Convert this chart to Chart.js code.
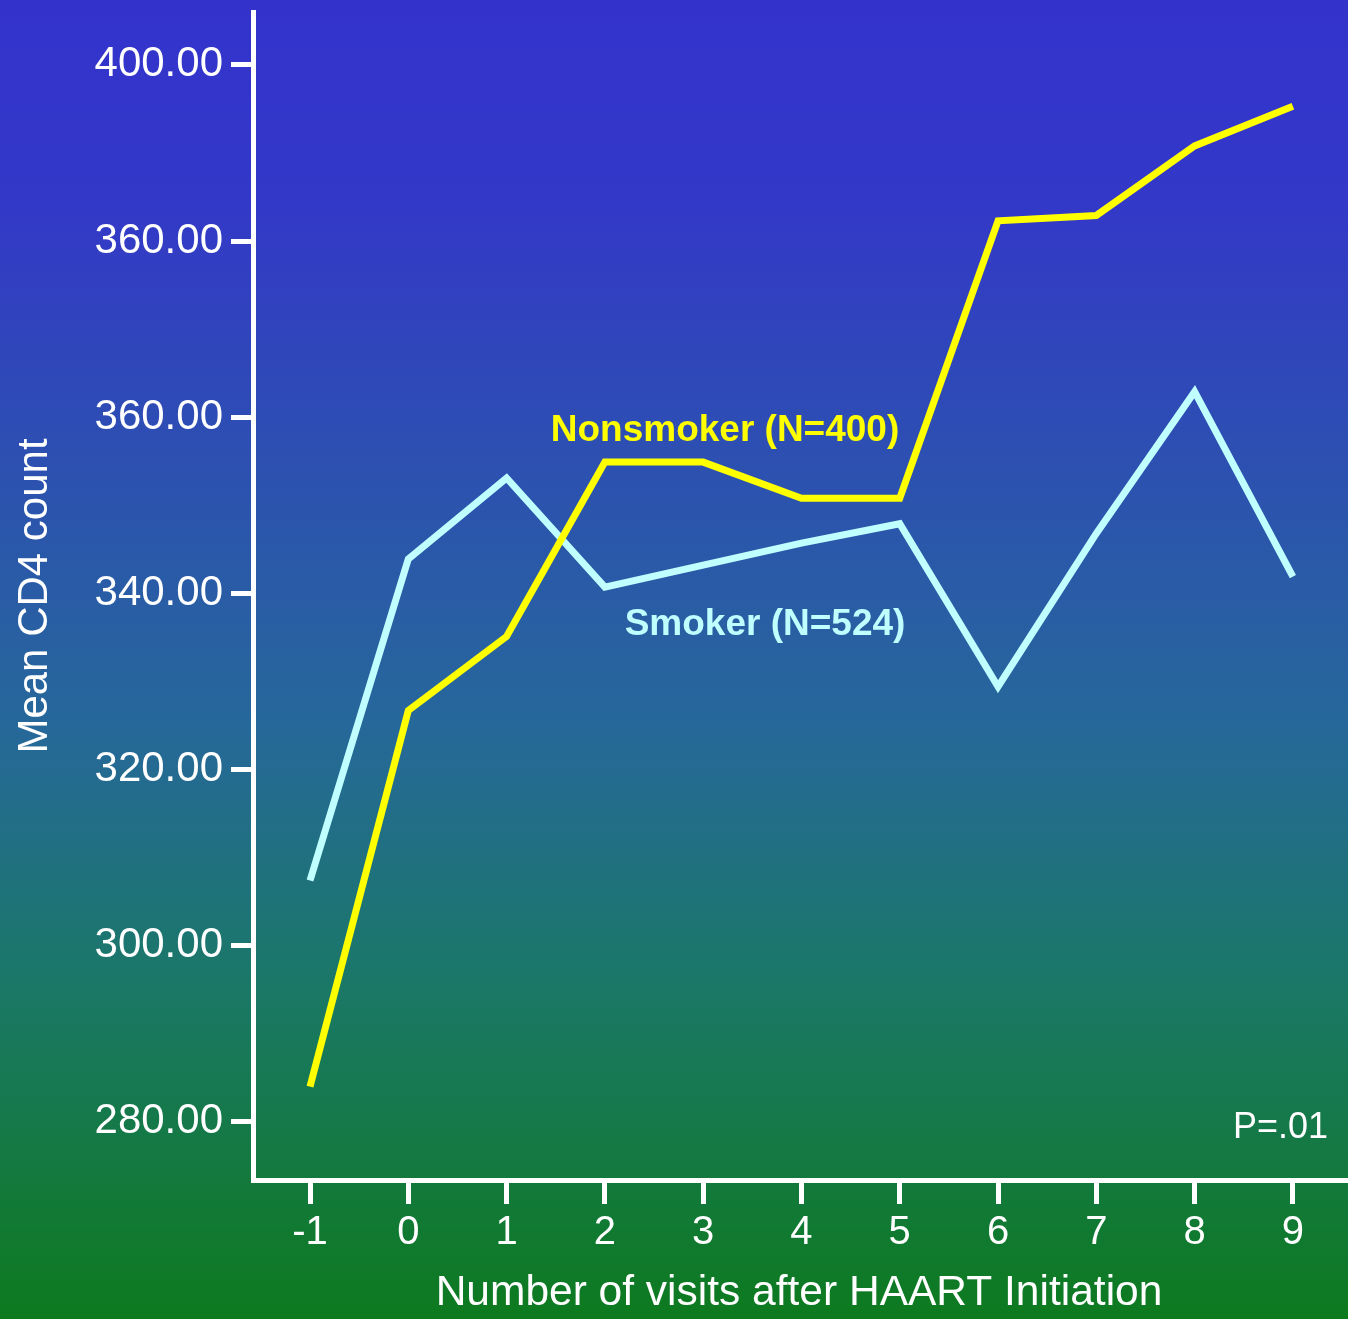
<!DOCTYPE html>
<html>
<head>
<meta charset="utf-8">
<script src="https://cdn.jsdelivr.net/npm/chart.js@4.4.0/dist/chart.umd.min.js"></script>
<style>
  html, body { margin: 0; padding: 0; background: #1a5a8a; }
  #wrap { width: 1348px; height: 1319px; position: relative; }
</style>
</head>
<body>
<div id="wrap"><canvas id="myChart" width="1348" height="1319"></canvas></div>
<script>
// visits after HAART initiation (x axis)
const visits = [-1, 0, 1, 2, 3, 4, 5, 6, 7, 8, 9];
// mean CD4 count per visit
const nonsmoker = [284.0, 326.7, 335.1, 354.9, 354.9, 350.8, 350.8, 382.3, 382.9, 390.8, 395.3];
const smoker = [307.4, 343.9, 353.1, 340.7, 343.2, 345.7, 347.9, 329.4, 346.8, 362.9, 341.9];
// y tick positions and the labels printed next to them (as on the original)
const yTickValues = [280, 300, 320, 340, 360, 380, 400];
const yTickLabels = ["280.00", "300.00", "320.00", "340.00", "360.00", "360.00", "400.00"];

const font = "'Liberation Sans', Arial, sans-serif";

// background gradient + text notes
const backdrop = {
  id: "backdrop",
  beforeDraw(chart) {
    const ctx = chart.ctx;
    const g = ctx.createLinearGradient(0, 0, 0, chart.height);
    g.addColorStop(0, "#3333CC");
    g.addColorStop(0.15, "#3338C8");
    g.addColorStop(0.55, "#26689A");
    g.addColorStop(0.75, "#1A7866");
    g.addColorStop(1, "#0D7A1E");
    ctx.save();
    ctx.fillStyle = g;
    ctx.fillRect(0, 0, chart.width, chart.height);
    ctx.restore();
  },
  afterDraw(chart) {
    const ctx = chart.ctx;
    ctx.save();
    ctx.textBaseline = "middle";
    ctx.textAlign = "center";
    ctx.font = "bold 37px " + font;
    ctx.fillStyle = "#FFFF00";
    ctx.fillText("Nonsmoker (N=400)", 725, 431);
    ctx.fillStyle = "#BFFFFF";
    ctx.fillText("Smoker (N=524)", 765, 625);
    ctx.font = "36px " + font;
    ctx.fillStyle = "#FFFFFF";
    ctx.textAlign = "right";
    ctx.fillText("P=.01", 1328, 1128);
    ctx.restore();
  }
};

function makeSeries(vals) {
  return vals.map((v, i) => ({ x: visits[i], y: v }));
}

const ctx = document.getElementById("myChart").getContext("2d");
const chart = new Chart(ctx, {
  type: "line",
  data: {
    datasets: [
      {
        label: "Nonsmoker (N=400)",
        data: makeSeries(nonsmoker),
        borderColor: "#FFFF00",
        borderWidth: 7,
        pointRadius: 0,
        tension: 0,
      },
      {
        label: "Smoker (N=524)",
        data: makeSeries(smoker),
        borderColor: "#BFFFFF",
        borderWidth: 7,
        pointRadius: 0,
        tension: 0,
      },
    ],
  },
  options: {
    responsive: false,
    animation: false,
    layout: { padding: { top: 12, right: 3, left: 0, bottom: 0 } },
    plugins: { legend: { display: false }, tooltip: { enabled: false } },
    scales: {
      x: {
        type: "linear",
        min: -1.58,
        max: 9.53,
        afterBuildTicks(scale) {
          scale.ticks = visits.map((v) => ({ value: v }));
        },
        afterFit(scale) {
          scale.height = 139;
          scale.paddingLeft = 0;
          scale.paddingRight = 0;
        },
        border: { display: true, color: "#FFFFFF", width: 5 },
        grid: { drawOnChartArea: false, color: "#FFFFFF", lineWidth: 5, tickLength: 24 },
        ticks: {
          color: "#FFFFFF",
          font: { family: font, size: 40 },
          padding: 5,
          callback: (v) => String(v),
        },
        title: {
          display: true,
          text: "Number of visits after HAART Initiation",
          color: "#FFFFFF",
          font: { family: font, size: 42.5 },
          padding: { top: 0, bottom: 0 },
        },
      },
      y: {
        min: 273.4,
        max: 406,
        afterBuildTicks(scale) {
          scale.ticks = yTickValues.map((v) => ({ value: v }));
        },
        afterFit(scale) {
          scale.width = 253;
          scale.paddingTop = 0;
          scale.paddingBottom = 0;
        },
        border: { display: true, color: "#FFFFFF", width: 5 },
        grid: { drawOnChartArea: false, color: "#FFFFFF", lineWidth: 5, tickLength: 22 },
        ticks: {
          color: "#FFFFFF",
          font: { family: font, size: 42 },
          padding: 8,
          callback: (v) => yTickLabels[yTickValues.indexOf(v)],
        },
        title: {
          display: true,
          text: "Mean CD4 count",
          color: "#FFFFFF",
          font: { family: font, size: 42 },
          padding: { top: 10, bottom: 0 },
        },
      },
    },
  },
  plugins: [backdrop],
});
</script>
</body>
</html>
